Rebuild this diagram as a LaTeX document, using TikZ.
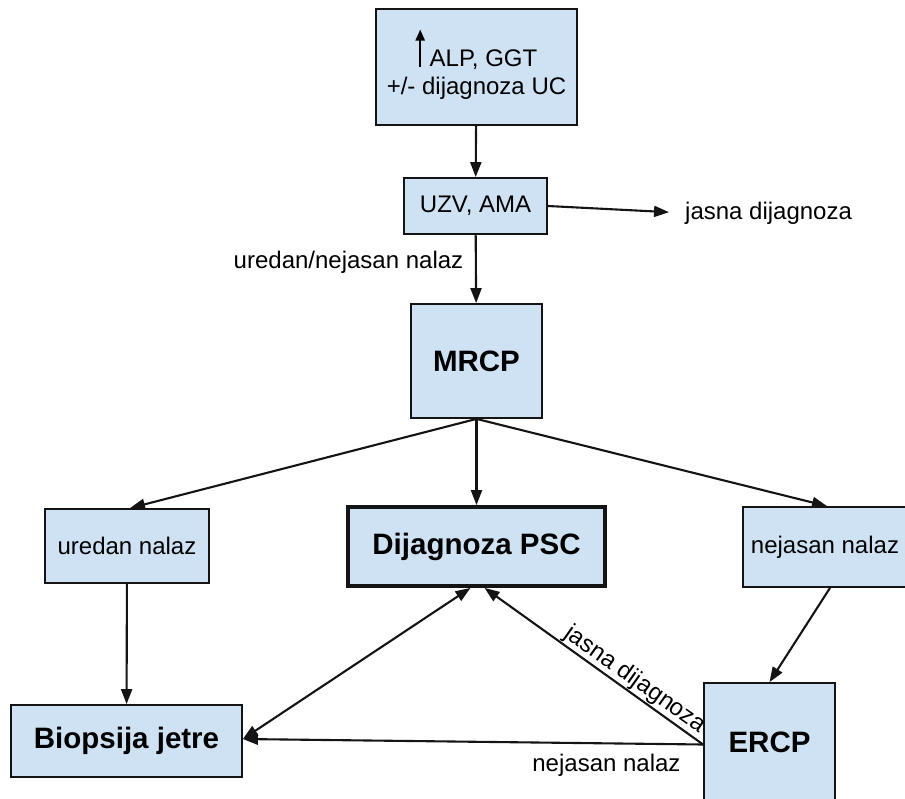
\documentclass[tikz,border=0pt]{standalone}
\usepackage{fontspec}
\setmainfont{Liberation Sans}
\usetikzlibrary{arrows.meta,calc}
\definecolor{boxfill}{HTML}{CFE2F3}
\definecolor{edgecol}{HTML}{141414}
\begin{document}
\begin{tikzpicture}[x=1pt,y=-1pt,
  box/.style={draw=edgecol, fill=boxfill, line width=1.8pt, inner sep=0pt, align=center, font=\fontsize{24}{28}\selectfont},
  bbox/.style={box, font=\bfseries\fontsize{29.5}{34}\selectfont},
  lab/.style={inner sep=0pt, font=\fontsize{24}{28}\selectfont},
  conn/.style={draw=edgecol, line width=2.1pt, -{Triangle[length=15pt,width=11pt]}},
  dconn/.style={conn, {Triangle[length=15pt,width=11pt]}-{Triangle[length=15pt,width=11pt]}}]
\useasboundingbox (0,0) rectangle (905,798);
% nodes
\node[box, minimum width=201pt, minimum height=116pt] (top) at (476.5,67)
  {\rule{0pt}{32pt}\smash{\tikz[baseline=0pt]\draw[line width=2.2pt,-{Triangle[length=11pt,width=9pt]}] (0pt,0pt)--(0pt,37pt);}\hspace{5pt}ALP, GGT\\+/- dijagnoza UC};
\node[box, minimum width=143pt, minimum height=56pt] (uzv) at (475.5,206) {UZV, AMA};
\node[bbox, minimum width=131pt, minimum height=114pt] (mrcp) at (476.5,361) {MRCP};
\node[bbox, line width=3.8pt, minimum width=257pt, minimum height=79pt] (dij) at (476.5,546.5) {Dijagnoza PSC};
\node[box, minimum width=164pt, minimum height=74pt] (ured) at (127,546) {uredan nalaz};
\node[box, minimum width=164pt, minimum height=80pt] (nej) at (825,547) {nejasan nalaz};
\node[bbox, minimum width=231pt, minimum height=72pt] (bio) at (126.5,741) {Biopsija jetre};
\node[bbox, minimum width=131pt, minimum height=119pt] (ercp) at (769.5,742.5) {ERCP};
\node[lab, anchor=west] (jd) at (685,213) {jasna dijagnoza};
\node[lab] (un) at (348.5,262) {uredan/nejasan nalaz};
% connectors
\draw[conn] (top) -- (uzv);
\draw[conn, shorten >=16pt] (uzv.east) -- (jd.west);
\draw[conn] (uzv) -- (mrcp);
\draw[conn] (mrcp.south) -- ([xshift=3pt]ured.north);
\draw[conn] (mrcp.south) -- (dij.north);
\draw[conn] (mrcp.south) -- ([xshift=2pt]nej.north);
\draw[conn] ([xshift=5pt]nej.south) -- (ercp.north);
\draw[conn] (ured) -- (bio);
\coordinate (dl) at ([xshift=-6pt]dij.south);
\coordinate (dr) at ([xshift=8pt]dij.south);
\draw[dconn] ([yshift=2pt]bio.east) -- (dl);
\draw[conn] ([yshift=-2pt]ercp.west) -- (dr);
\draw[conn] ([yshift=-2pt]ercp.west) -- ([yshift=2pt]bio.east)
  node[lab, pos=0.21, yshift=-22pt] (nn) {nejasan nalaz};
\node[lab, rotate=-35.3, anchor=south, inner sep=1.5pt] (jd2) at ($([yshift=-2pt]ercp.west)!0.345!(dr)$) {jasna dijagnoza};
\end{tikzpicture}
\end{document}
